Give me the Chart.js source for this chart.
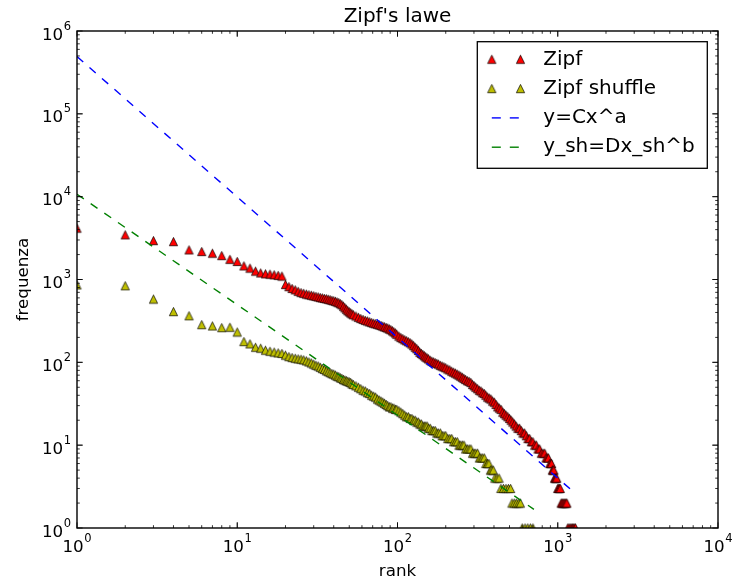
<!DOCTYPE html>
<html><head><meta charset="utf-8">
<script src="https://cdn.jsdelivr.net/npm/chart.js@4.4.0/dist/chart.umd.min.js"></script>
<style>html,body{margin:0;padding:0;background:#fff;}#wrap{width:732px;height:587px;}</style>
</head><body><div id="wrap"><canvas id="c" width="732" height="587"></canvas></div>
<script>
// ---- data: [rank, frequency] ----
const zipfPoints = [
[1,4170],[2,3460],[3,2950],[4,2870],[5,2275],[6,2175],[7,2075],[8,1945],[9,1750],[10,1650],
[11,1460],[12,1370],[13,1260],[14,1200],[15,1170],[16,1160],[17,1140],[18,1120],[19,1100],
[20,870],[21,820],[22,780],[23,750],[24,720],[25,695],[26,680],[27,665],[28,655],[29,645],[30,635],
[31,625],[32,615],[33,605],[34,598],[35,590],[36,585],[37,577],[38,570],[39,560],[40,553],
[41,545],[42,535],[43,525],[44,510],[45,495],[46,475],[47,455],[48,437],[49,420],[50,407],
[51,395],[52,385],[53,375],[55,362],[57,349],[59,338],[61,329],[63,321],[65,315],[67,308],
[69,302],[71,296],[73,292],[75,288],[77,283],[79,278],[81,273],[83,268],[85,263],[87,259],
[89,253],[91,247],[93,240],[95,233],[97,226],[99,218],[102,207],[105,199],[108,193],[111,187],
[114,182],[117,177],[120,172],[123,166],[126,159],[129,152],[132,146],[135,139],[138,132],[141,128],
[144,124],[147,120],[150,116],[153,113],[156,110],[160,106],[164,103],[168,101],[172,99],[176,97],
[180,95],[185,92],[190,90],[195,88],[200,86],[206,83],[212,81],[218,78],[224,76],[230,74],
[236,72],[242,70],[248,68],[254,66],[260,64],[266,62],[273,60],[280,59],[287,57],[294,54],
[301,52],[308,50],[316,48],[324,46],[332,45],[340,43],[348,42],[356,40],[365,38],[374,37],
[383,36],[392,34],[402,33],[412,31],[422,29],[432,28],[443,27],[454,25],[465,24],[476,23],
[488,22],[500,21],[512,20],[524,19],[537,18],[550,17],[564,16],[578,16],[592,15],[606,14],
[621,14],[636,13],[652,12],[668,12],[684,11],[700,11],[718,10],[735,10],[753,9],[771,9],
[790,8],[810,8],[829,8],[845,7],[860,7],[875,7],[893,6],[905,6],[915,6],[925,5],
[935,5],[945,5],[955,4],[965,4],[975,4],[985,4],[1000,3],[1012,3],[1025,3],[1037,3],
[1050,2],[1065,2],[1080,2],[1095,2],[1110,2],[1125,2],[1140,2],[1155,1],[1175,1],[1195,1],
[1215,1],[1235,1],[1255,1],[1275,1],[1290,1]
];
const shufflePoints = [
[1,860],[2,840],[3,580],[4,410],[5,365],[6,285],[7,275],[8,262],[9,265],[10,232],
[11,178],[12,167],[13,152],[14,148],[15,140],[16,136],[17,133],[18,130],[19,128],
[20,122],[21,117],[22,114],[23,112],[24,110],[25,109],[26,107],[27,104],[28,101],[29,98],[30,95],
[31,92],[32,90],[33,87],[34,84],[35,82],[36,79],[37,77],[38,75],[39,73],[40,72],
[41,70],[42,68],[43,67],[44,65],[45,64],[46,62],[47,61],[48,60],[49,59],[50,58],
[51,57],[52,55],[53,54],[55,52],[57,50],[59,48],[61,46],[63,45],[65,43],[67,42],
[69,40],[71,39],[73,38],[75,36],[77,35],[79,34],[81,33],[83,32],[85,31],[87,30],
[89,29],[91,29],[93,28],[95,28],[97,27],[99,27],[102,26],[105,25],[108,24],[111,23],
[114,22],[117,22],[120,21],[123,21],[126,20],[129,20],[132,19],[135,19],[138,18],[141,18],
[144,17],[147,17],[150,17],[153,17],[156,16],[160,16],[164,15],[168,15],[172,15],[176,14],
[180,14],[185,14],[190,13],[195,13],[200,13],[206,12],[212,12],[218,12],[224,11],[230,11],
[236,11],[242,10],[248,10],[254,10],[260,10],[266,9],[273,9],[280,9],[287,9],[294,8],
[301,8],[308,8],[316,8],[324,7],[332,7],[340,7],[348,7],[356,6],[364,6],[372,6],
[380,5],[388,5],[396,5],[405,4],[418,4],[430,4],[442,3],[458,3],[475,3],[492,3],
[508,3],[518,2],[535,2],[552,2],[570,2],[585,2],[600,1],[625,1],[650,1],[675,1],[700,1]
];
const fitRank = [1, 1290];
const fitFreq = [492000, 2.6];
const fitShRank = [1, 710];
const fitShFreq = [10700, 1.68];
const seriesLabels = ['Zipf', 'Zipf shuffle', 'y=Cx^a', 'y_sh=Dx_sh^b'];
const xTicks = [1, 10, 100, 1000, 10000];
const xTickExp = ['0', '1', '2', '3', '4'];
const yTicks = [1, 10, 100, 1000, 10000, 100000, 1000000];
const yTickExp = ['0', '1', '2', '3', '4', '5', '6'];
const tickBase = '10';

const fromPairs = (arr) => arr.map(p => ({x: p[0], y: p[1]}));
const fromXY = (xs, ys) => xs.map((v, i) => ({x: v, y: ys[i]}));

function triangle(fill) {
  const c = document.createElement('canvas');
  c.width = 11; c.height = 11;
  const g = c.getContext('2d');
  const s = 8.3 / 2, cx = 5.5, cy = 5.5;
  g.beginPath();
  g.moveTo(cx, cy - s); g.lineTo(cx - s, cy + s); g.lineTo(cx + s, cy + s); g.closePath();
  g.fillStyle = fill; g.fill();
  g.lineWidth = 0.7; g.strokeStyle = '#000'; g.stroke();
  return c;
}
const redTri = triangle('#ff0000');
const yelTri = triangle('#bfbf00');

const FONT = "'DejaVu Sans', sans-serif";
Chart.defaults.font.family = FONT;
Chart.defaults.color = '#000';

const frameTicks = {
  id: 'frameTicks',
  afterDatasetsDraw(chart) {
    const {ctx, chartArea: a, scales: {x, y}} = chart;
    ctx.save();
    ctx.strokeStyle = '#000';
    ctx.lineWidth = 0.8;
    ctx.beginPath();
    for (let d = 0; d < 4; d++) {
      for (let m = 1; m <= 10; m++) {
        const px = x.getPixelForValue(m * Math.pow(10, d));
        const L = (m === 1 || m === 10) ? 5.6 : 2.8;
        ctx.moveTo(px, a.bottom); ctx.lineTo(px, a.bottom - L);
        ctx.moveTo(px, a.top); ctx.lineTo(px, a.top + L);
      }
    }
    for (let d = 0; d < 6; d++) {
      for (let m = 1; m <= 10; m++) {
        const py = y.getPixelForValue(m * Math.pow(10, d));
        const L = (m === 1 || m === 10) ? 5.6 : 2.8;
        ctx.moveTo(a.left, py); ctx.lineTo(a.left + L, py);
        ctx.moveTo(a.right, py); ctx.lineTo(a.right - L, py);
      }
    }
    ctx.stroke();
    ctx.lineWidth = 1.4;
    ctx.strokeRect(a.left, a.top, a.right - a.left, a.bottom - a.top);
    ctx.restore();
  }
};

const tickLabels = {
  id: 'tickLabels',
  afterDraw(chart) {
    const {ctx, chartArea: a, scales: {x, y}} = chart;
    const big = '16.7px ' + FONT, small = '11.5px ' + FONT;
    ctx.save();
    ctx.fillStyle = '#000';
    ctx.textAlign = 'left';
    ctx.textBaseline = 'alphabetic';
    const draw = (x0, base, exp) => {
      ctx.font = big; const w1 = ctx.measureText(tickBase).width;
      ctx.fillText(tickBase, x0, base);
      ctx.font = small; ctx.fillText(exp, x0 + w1 + 0.5, base - 10);
    };
    const width = (exp) => {
      ctx.font = big; const w1 = ctx.measureText(tickBase).width;
      ctx.font = small; const w2 = ctx.measureText(exp).width;
      return w1 + 0.5 + w2;
    };
    xTicks.forEach((v, i) => {
      const px = x.getPixelForValue(v);
      draw(px - width(xTickExp[i]) / 2, a.bottom + 23.7, xTickExp[i]);
    });
    yTicks.forEach((v, i) => {
      const py = y.getPixelForValue(v);
      draw(a.left - 6 - width(yTickExp[i]), py + 8.5, yTickExp[i]);
    });
    ctx.restore();
  }
};

const mplLegend = {
  id: 'mplLegend',
  afterDraw(chart) {
    const {ctx, chartArea: a} = chart;
    const ds = chart.data.datasets;
    const bw = 230, bh = 126.6;
    const bx = a.right - 10.7 - bw, by = a.top + 10.7;
    ctx.save();
    ctx.fillStyle = '#fff';
    ctx.fillRect(bx, by, bw, bh);
    ctx.lineWidth = 1.3; ctx.strokeStyle = '#000';
    ctx.strokeRect(bx, by, bw, bh);
    ctx.font = '20px ' + FONT;
    ctx.textBaseline = 'middle';
    ctx.textAlign = 'left';
    ds.forEach((d, i) => {
      const cy = by + 17.6 + i * 29.3;
      const x1 = bx + 14.5, x2 = bx + 43.2;
      if (d.showLine) {
        ctx.save();
        ctx.strokeStyle = d.borderColor; ctx.lineWidth = d.borderWidth;
        ctx.setLineDash([9, 9]);
        ctx.beginPath(); ctx.moveTo(x1, cy); ctx.lineTo(x1 + 28, cy); ctx.stroke();
        ctx.restore();
      } else {
        const im = d.pointStyle;
        ctx.drawImage(im, x1 - im.width / 2, cy - im.height / 2);
        ctx.drawImage(im, x2 - im.width / 2, cy - im.height / 2);
      }
      ctx.fillStyle = '#000';
      ctx.fillText(d.label, bx + 66, cy);
    });
    ctx.restore();
  }
};

new Chart(document.getElementById('c'), {
  type: 'scatter',
  data: {
    datasets: [
      {label: seriesLabels[0], data: fromPairs(zipfPoints), pointStyle: redTri, pointRadius: 4, pointHoverRadius: 4, backgroundColor: '#ff0000', borderColor: '#000', clip: 0, order: 3, showLine: false},
      {label: seriesLabels[1], data: fromPairs(shufflePoints), pointStyle: yelTri, pointRadius: 4, pointHoverRadius: 4, backgroundColor: '#bfbf00', borderColor: '#000', clip: 0, order: 2, showLine: false},
      {label: seriesLabels[2], data: fromXY(fitRank, fitFreq), showLine: true, pointRadius: 0, borderColor: '#0000ff', borderWidth: 1.39, borderDash: [8.3, 8.3], fill: false, clip: 0, order: 1},
      {label: seriesLabels[3], data: fromXY(fitShRank, fitShFreq), showLine: true, pointRadius: 0, borderColor: '#008000', borderWidth: 1.39, borderDash: [8.3, 8.3], fill: false, clip: 0, order: 0}
    ]
  },
  options: {
    responsive: false,
    animation: false,
    events: [],
    layout: {padding: {left: 0, right: 14, top: 0, bottom: 0}},
    plugins: {
      legend: {display: false},
      tooltip: {enabled: false},
      title: {display: true, text: "Zipf's lawe", fullSize: false, color: '#000',
        font: {size: 20, weight: 'normal', family: FONT}, padding: {top: 5, bottom: 2}}
    },
    scales: {
      x: {
        type: 'logarithmic', min: 1, max: 10000, position: 'bottom',
        grid: {display: false, drawTicks: false}, border: {display: false},
        afterBuildTicks: (s) => { s.ticks = xTicks.map(v => ({value: v, major: true})); },
        afterFit: (s) => { s.height = 59; },
        ticks: {display: false},
        title: {display: true, text: 'rank', color: '#000', font: {size: 16.7, family: FONT}, padding: {top: 0, bottom: 5.5}}
      },
      y: {
        type: 'logarithmic', min: 1, max: 1000000, position: 'left',
        grid: {display: false, drawTicks: false}, border: {display: false},
        afterBuildTicks: (s) => { s.ticks = yTicks.map(v => ({value: v, major: true})); },
        afterFit: (s) => { s.width = 77; },
        ticks: {display: false},
        title: {display: true, text: 'frequenza', color: '#000', font: {size: 16.7, family: FONT}, padding: {top: 14, bottom: 0}}
      }
    }
  },
  plugins: [frameTicks, tickLabels, mplLegend]
});
</script>
</body></html>
